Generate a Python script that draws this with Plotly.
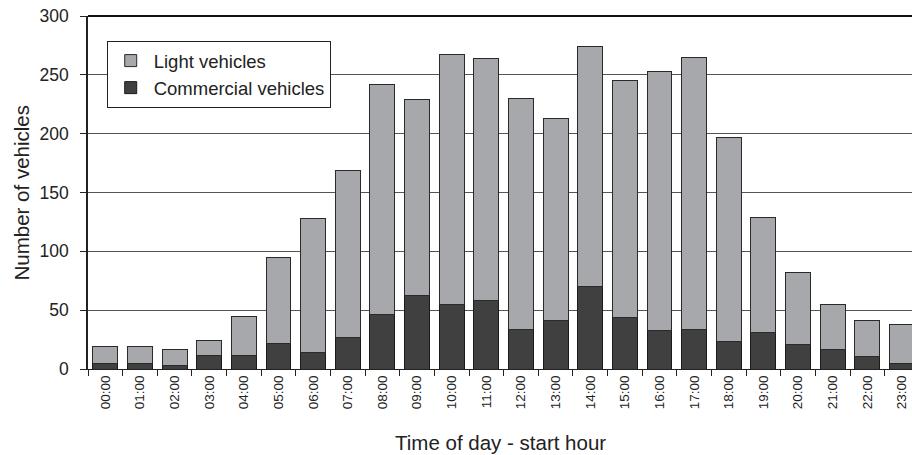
import plotly.graph_objects as go

hours = [f"{h:02d}:00" for h in range(24)]
total = [19.5, 19.5, 16.4, 24.6, 45, 94.6, 128, 169, 242, 229, 267.5, 264,
         230, 213, 274, 245, 253, 265, 197, 129, 82, 55, 41.4, 38]
commercial = [4.8, 4.8, 3.4, 11.6, 11.6, 21.8, 13.9, 26.6, 45.9, 62.3, 55.2, 57.8,
              33.7, 40.8, 70.3, 43.9, 32.6, 33.7, 23.2, 31.2, 21, 16.4, 10.5, 4.8]
light = [t - c for t, c in zip(total, commercial)]

font = "Liberation Sans, Arial, sans-serif"
fig = go.Figure()
fig.add_trace(go.Bar(x=hours, y=commercial, name="Commercial vehicles",
                     marker=dict(color="#404040", line=dict(color="#1a1a1a", width=1)),
                     width=0.72))
fig.add_trace(go.Bar(x=hours, y=light, name="Light vehicles",
                     marker=dict(color="#a7a8ab", line=dict(color="#2a2a2a", width=1)),
                     width=0.72))

fig.update_layout(
    barmode="stack",
    width=912, height=455,
    margin=dict(l=88, r=0, t=16, b=86, autoexpand=False),
    plot_bgcolor="white", paper_bgcolor="white",
    font=dict(family=font, color="#222", size=18),
    showlegend=True,
    hovermode=False,
    legend=dict(traceorder="reversed", x=0.0227, y=0.929, xanchor="left", yanchor="top",
                bordercolor="#222", borderwidth=1, bgcolor="white",
                font=dict(size=18.5, family=font), itemwidth=36,
                tracegroupgap=0),
    xaxis=dict(type="category", range=[-0.5, 23.29], tickangle=-90, automargin=False,
               tickfont=dict(size=13.5, family=font), showline=True, linecolor="#222",
               linewidth=1, ticks="outside", tickson="boundaries", ticklen=6,
               tickcolor="#222", showgrid=False, ticklabeloverflow="allow"),
    yaxis=dict(range=[0, 300], dtick=50, showline=True, linecolor="#222", linewidth=1.5,
               ticks="outside", ticklen=6, tickcolor="#222", showgrid=True,
               gridcolor="#555", gridwidth=1, zeroline=False, automargin=False,
               ticklabelstandoff=8, ticklabeloverflow="allow",
               tickfont=dict(size=17.5, family=font)),
    annotations=[
        dict(text="Time of day - start hour", xref="paper", yref="paper",
             x=0.5, y=-0.2096, xanchor="center", yanchor="middle", showarrow=False,
             font=dict(size=20.5, family=font, color="#222")),
        dict(text="Number of vehicles", xref="paper", yref="paper",
             x=-0.0801, y=0.5, xanchor="center", yanchor="middle", showarrow=False,
             textangle=-90, font=dict(size=20.5, family=font, color="#222")),
    ],
    shapes=[dict(type="line", xref="paper", yref="paper", x0=0, x1=1, y0=1, y1=1,
                 line=dict(color="#111", width=2))],
)

fig.write_html("out.html", config={"displayModeBar": False},
               post_script="document.body.style.margin='0';document.body.style.overflow='hidden';")
